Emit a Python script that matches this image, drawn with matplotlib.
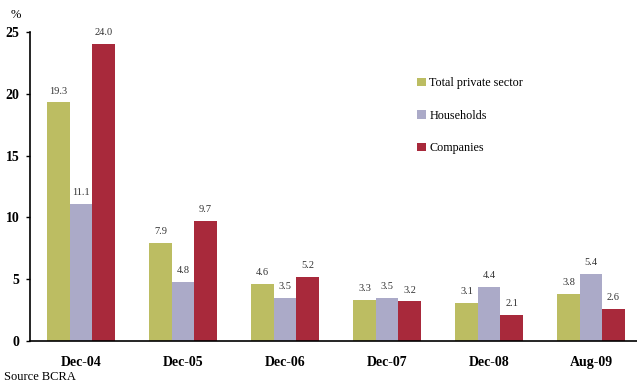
import numpy as np
import matplotlib.pyplot as plt

periods = ['Dec-04', 'Dec-05', 'Dec-06', 'Dec-07', 'Dec-08', 'Aug-09']
total_private = [19.3, 7.9, 4.6, 3.3, 3.1, 3.8]
households = [11.1, 4.8, 3.5, 3.5, 4.4, 5.4]
companies = [24.0, 9.7, 5.2, 3.2, 2.1, 2.6]

series = [
    ('Total private sector', total_private, '#bcbd62'),
    ('Households', households, '#abaac8'),
    ('Companies', companies, '#a8293b'),
]

plt.rcParams['font.family'] = ['Liberation Serif', 'DejaVu Serif']

fig = plt.figure(figsize=(6.37, 3.83), dpi=100)
ax = fig.add_axes([30 / 637, 42 / 383, 1 - 30 / 637, 309 / 383])

x = np.arange(len(periods))
width = 0.22
for i, (name, vals, color) in enumerate(series):
    pos = x + (i - 1) * width
    bars = ax.bar(pos, vals, width, color=color, label=name)
    for b, v in zip(bars, vals):
        ax.annotate(f'{v:.1f}', (b.get_x() + b.get_width() / 2, v),
                    xytext=(0, 5), textcoords='offset points',
                    ha='center', va='bottom', fontsize=7.5, color='#333333')

ax.set_xlim(-0.5, 5.45)
ax.set_ylim(0, 25)
ax.set_yticks([0, 5, 10, 15, 20, 25])
ax.set_xticks(x)
ax.set_xticklabels(periods, fontsize=10, fontweight='bold')
for lbl in ax.get_yticklabels():
    lbl.set_fontsize(10)
    lbl.set_fontweight('bold')
ax.tick_params(axis='x', length=0, pad=11)
ax.tick_params(axis='y', direction='out', length=3, width=1, pad=4.5)
ax.spines['top'].set_visible(False)
ax.spines['right'].set_visible(False)
ax.spines['left'].set_linewidth(1.2)
ax.spines['bottom'].set_linewidth(1.2)

ax.legend(loc='upper left', bbox_to_anchor=(0.63, 0.87), frameon=False,
          fontsize=8.7, handlelength=0.7, handleheight=0.7, handletextpad=0.3,
          labelspacing=1.7, borderaxespad=0)

fig.text(16 / 637, 1 - 15 / 383, '%', fontsize=9, ha='center', va='center')
fig.text(4 / 637, 1 - 377 / 383, 'Source BCRA', fontsize=9, ha='left', va='center')

fig.savefig('out.png', dpi=100)
